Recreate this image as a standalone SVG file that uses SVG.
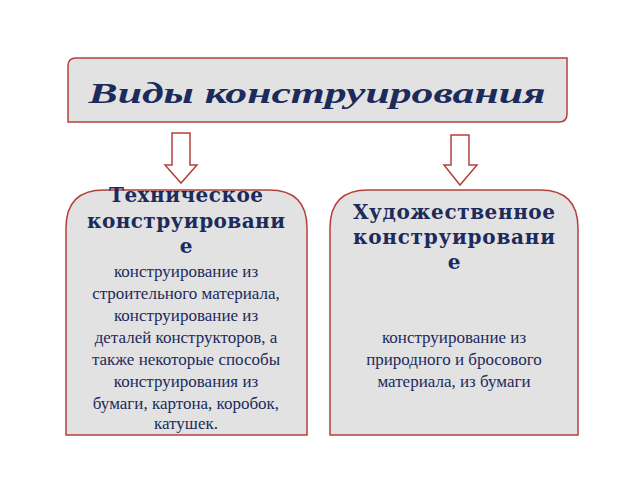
<svg xmlns="http://www.w3.org/2000/svg" width="640" height="480" viewBox="0 0 640 480">
<style>
.box{fill:#e2e2e2;stroke:#b5403a;stroke-width:1.5}
.arr{fill:#fff;stroke:#b5403a;stroke-width:1.5}
.t{font-family:"Liberation Serif",serif;fill:#1c2a5c;text-anchor:middle}
.h{font-family:"DejaVu Serif",serif;font-size:20px;font-weight:bold}
.b{font-size:17px}
</style>
<rect width="640" height="480" fill="#fff"/>
<g id="title">
<path class="box" d="M76 58H567V114Q567 122 559 122H68V66Q68 58 76 58Z"/>
<text class="t" x="317" y="103" font-family="DejaVu Serif, serif" font-size="30" font-weight="bold" font-style="italic" textLength="457" lengthAdjust="spacingAndGlyphs">Виды конструирования</text>
</g>
<g id="connectors">
<path class="arr" d="M172 133H190V165H197L181 183L165 165H172Z"/>
<path class="arr" d="M451 135H469V165H477L460 185L444 165H451Z"/>
</g>
<g id="tech">
<path class="box" d="M66 435V228Q66 190 104 190H269Q307 190 307 228V435Z"/>
<text class="t h"><tspan x="186" y="202" textLength="154">Техническое</tspan><tspan x="186" y="228" textLength="198">конструировани</tspan><tspan x="186" y="253">е</tspan></text>
<text class="t b"><tspan x="186" y="277">конструирование из</tspan><tspan x="186" y="299">строительного материала,</tspan><tspan x="186" y="321">конструирование из</tspan><tspan x="186" y="343">деталей конструкторов, а</tspan><tspan x="186" y="365">также некоторые способы</tspan><tspan x="186" y="387">конструирования из</tspan><tspan x="186" y="409">бумаги, картона, коробок,</tspan><tspan x="186" y="429">катушек.</tspan></text>
</g>
<g id="art">
<path class="box" d="M330 435V228Q330 190 368 190H540Q578 190 578 228V435Z"/>
<text class="t h"><tspan x="454" y="219" textLength="202">Художественное</tspan><tspan x="454" y="244" textLength="202">конструировани</tspan><tspan x="454" y="269">е</tspan></text>
<text class="t b"><tspan x="454" y="343">конструирование из</tspan><tspan x="454" y="365">природного и бросового</tspan><tspan x="454" y="387">материала, из бумаги</tspan></text>
</g>
</svg>
